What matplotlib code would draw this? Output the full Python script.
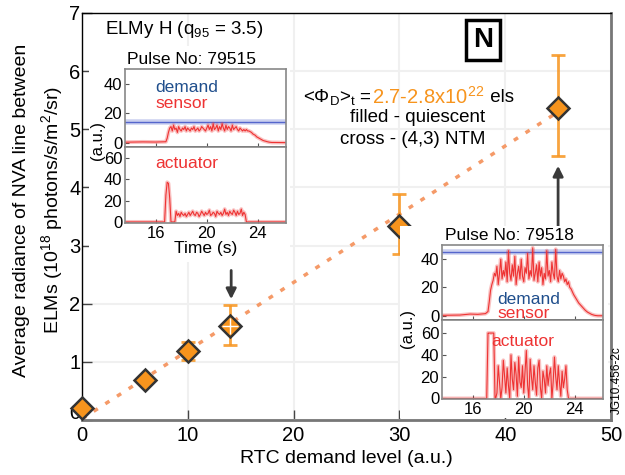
import numpy as np
import matplotlib
matplotlib.use("Agg")
import matplotlib.pyplot as plt
from matplotlib.patches import Rectangle

plt.rcParams['font.family'] = ['Liberation Sans', 'DejaVu Sans']
plt.rcParams['mathtext.fontset'] = 'custom'
plt.rcParams['mathtext.rm'] = 'Liberation Sans'
plt.rcParams['mathtext.it'] = 'Liberation Sans'

# ---------------- main data ----------------
rtc_demand = [0, 6, 10, 14, 30, 45]
radiance = [0.2, 0.68, 1.18, 1.62, 3.34, 5.37]
err_low = [0.0, 0.0, 0.15, 0.33, 0.48, 0.83]
err_high = [0.0, 0.0, 0.17, 0.36, 0.55, 0.91]
fit_x = [0, 45]
fit_y = [0.02, 5.3]

x_ticks = [0, 10, 20, 30, 40, 50]
y_ticks = [0, 1, 2, 3, 4, 5, 6, 7]

# ---------------- inset 1: pulse 79515 ----------------
p1_demand = 14
p1_sensor_t0 = [13.6, 15.0, 16.0, 16.8, 16.9, 17.0, 17.1]
p1_sensor_v0 = [0.3, 0.5, 0.4, 0.6, 3, 7, 10]
p1_sensor_noisy = [11, 8, 12, 9, 10, 7, 11, 9, 8, 10, 9, 11, 8, 10, 9, 8, 10, 9, 11, 8,
                   9, 10, 8, 9, 11, 10, 9, 8, 10, 12, 9, 11, 8, 13, 9, 10, 12, 8, 11, 9,
                   13, 10, 8, 12, 9, 11, 10, 8, 12, 9, 10, 11, 9, 8, 10, 9, 8, 9, 8, 9, 8]
p1_sensor_decay = [8, 7.5, 7, 6, 5.5, 5, 4, 3.5, 3, 2.5, 2, 1.5, 1.2, 1, 0.7, 0.5, 0.3, 0.2, 0.1, 0.1]
p1_act_t0 = [13.6, 16.7, 16.8, 16.9, 17.0, 17.1, 17.2, 17.3, 17.5]
p1_act_v0 = [0, 0, 25, 37, 36, 22, 0, 0, 0]
p1_act_noisy = [10, 6, 8, 5, 9, 7, 6, 8, 5, 7, 9, 6, 8, 10, 7, 6, 9, 8, 5, 7, 10, 8, 6, 9, 7,
                8, 11, 6, 7, 9, 8, 5, 10, 8, 7, 9, 6, 8, 12, 7, 9, 6, 10, 8, 7, 11, 9, 6, 10,
                7, 8, 12, 6, 9, 7]

# ---------------- inset 2: pulse 79518 ----------------
p2_demand = 45
p2_sensor_t0 = [13.6, 15.0, 15.8, 16.4, 17.0, 17.2, 17.3, 17.4, 17.5]
p2_sensor_v0 = [0.3, 0.5, 1.2, 1.0, 1.5, 3, 10, 18, 22]
p2_sensor_noisy = [25, 30, 28, 35, 22, 30, 40, 26, 32, 28, 38, 24, 46, 30, 25, 36, 28, 42, 22, 30,
                   35, 26, 40, 28, 24, 34, 30, 44, 26, 32, 28, 48, 25, 30, 36, 24, 38, 28, 34, 22,
                   30, 26, 46, 28, 32, 24, 38, 30, 26, 47, 28, 24, 32, 26, 30, 28, 24, 26, 22, 24, 20]
p2_sensor_decay = [19, 17, 15, 13.5, 12, 10.5, 9, 8, 7, 6, 5, 4, 3.2, 2.5, 2, 1.5, 1, 0.7, 0.4, 0.2, 0.1, 0]
p2_act_t0 = [13.6, 17.1, 17.2, 17.25, 17.65, 17.7, 17.75]
p2_act_v0 = [0, 0, 60, 60, 60, 30, 0]
p2_act_noisy = [0, 5, 30, 15, 0, 10, 35, 20, 5, 28, 12, 0, 40, 18, 8, 33, 22, 2, 38, 15, 10, 30, 5,
                25, 44, 12, 0, 36, 20, 8, 30, 15, 3, 28, 35, 10, 0, 25, 18, 5, 30, 12, 22, 28, 0,
                15, 38, 20, 8, 30, 14, 2, 25, 10, 18, 30, 8, 0]

inset_xticks = [16, 20, 24]

W, H = 625, 475
fig = plt.figure(figsize=(W / 100, H / 100), dpi=100)

def fx(px):
    return px / W

def fy(py):
    return 1 - py / H

ORANGE = '#f7941d'
DASH = '#f59a68'
RED = '#ee3333'
BLUE = '#5566cc'
DKBLUE = '#1f4e8c'

# ---------------- main axes ----------------
ax = fig.add_axes([fx(82), fy(420), fx(611) - fx(82), fy(13) - fy(420)])
ax.set_xlim(0, 50)
ax.set_ylim(0, 7)
ax.grid(True, color='#f0f0f0', lw=1.5, zorder=0)
ax.set_axisbelow(True)
ax.plot(fit_x, fit_y, color=DASH, lw=2.5, ls=(0, (1.4, 2.6)), zorder=2)
ax.errorbar(rtc_demand, radiance, yerr=[err_low, err_high], fmt='none',
            ecolor=ORANGE, elinewidth=2, capsize=5, capthick=2, alpha=0.85, zorder=3)
ax.plot(rtc_demand, radiance, 'D', ms=11.5, mfc=ORANGE, mec='#333333', mew=1.8, zorder=5,
        clip_on=False)
# white cross on point 14
ax.plot([rtc_demand[3]], [radiance[3]], '+', ms=11, mec='white', mew=1.0, zorder=6)

ax.set_xticks(x_ticks)
ax.set_yticks(y_ticks)
ax.set_yticklabels([''] + [str(v) for v in y_ticks[1:]])
ax.tick_params(direction='in', length=7, width=1, colors='#444444', labelcolor='black',
               labelsize=14.5, pad=4)
ax.tick_params(axis='y', pad=1)
ax.annotate(str(y_ticks[0]), xy=(0, y_ticks[0]), xytext=(-1.5, 5), textcoords='offset points',
            ha='right', va='center', fontsize=14.5, annotation_clip=False)
ax.set_xlabel('RTC demand level (a.u.)', fontsize=14, labelpad=4)
for s in ['left', 'top']:
    ax.spines[s].set_color('black')
    ax.spines[s].set_linewidth(1.0)
for s in ['bottom', 'right']:
    ax.spines[s].set_color('#777777')
    ax.spines[s].set_linewidth(2.0)

fig.text(fx(22), fy(210), 'Average radiance of NVA line between', rotation=90,
         ha='center', va='center', fontsize=14)
fig.text(fx(52), fy(210), r'ELMs (10$^{18}$ photons/s/m$^{2}$/sr)', rotation=90,
         ha='center', va='center', fontsize=14)

fig.text(fx(105), fy(30), r'ELMy H (q$_{95}$ = 3.5)', ha='left', va='center', fontsize=13.5)

# N box
fig.text(fx(483), fy(40), 'N', ha='center', va='center', fontsize=20, fontweight='bold',
         bbox=dict(boxstyle='square,pad=0.25', fc='white', ec='black', lw=2.5))

# annotation text
fig.canvas.draw()
renderer = fig.canvas.get_renderer()
pieces = [(r'<$\Phi_{\rm D}$>$_{\rm t}$ = ', 'black', 13.5),
          (r'2.7-2.8x10$^{22}$', ORANGE, 14.5),
          (' els', 'black', 13.5)]
xcur = fx(303)
for txt, col, fs in pieces:
    t = fig.text(xcur, fy(97), txt, ha='left', va='center', fontsize=fs, color=col)
    bb = t.get_window_extent(renderer)
    xcur += bb.width / W
fig.text(fx(418), fy(118), 'filled - quiescent', ha='center', va='center', fontsize=13.5)
fig.text(fx(413), fy(140), 'cross - (4,3) NTM', ha='center', va='center', fontsize=13.5)

# arrows
ax.annotate('', xy=(14.1, 2.03), xytext=(14.1, 2.62),
            arrowprops=dict(arrowstyle='-|>,head_width=0.3,head_length=0.6', color='#3a3a3a', lw=2),
            zorder=7)
ax.annotate('', xy=(45, 4.42), xytext=(45, 3.24),
            arrowprops=dict(arrowstyle='-|>,head_width=0.3,head_length=0.6', color='#3a3a3a', lw=2),
            zorder=7)

fig.text(fx(617), fy(380), 'JG10.456-2c', rotation=90, ha='center', va='center', fontsize=8.5)

# white background patches for insets
fig.patches.append(Rectangle((fx(89), fy(262)), fx(290) - fx(89), fy(46) - fy(262),
                             transform=fig.transFigure, fc='white', ec='none', zorder=1))
fig.patches.append(Rectangle((fx(400), fy(418)), fx(608) - fx(400), fy(226) - fy(418),
                             transform=fig.transFigure, fc='white', ec='none', zorder=1))


def build(t0, v0, noisy, start, decay=None):
    t = list(t0)
    v = list(v0)
    tn = start + 0.1 * np.arange(len(noisy))
    t += list(tn)
    v += list(noisy)
    if decay is not None:
        td = tn[-1] + 0.1 + 0.1 * np.arange(len(decay))
        t += list(td)
        v += list(decay)
    t.append(26.2)
    v.append(0)
    return np.array(t), np.array(v)


def style_inset(a, ylim, yticks):
    a.set_xlim(13.6, 26.2)
    a.set_ylim(*ylim)
    a.set_yticks(yticks)
    a.set_xticks(inset_xticks)
    a.tick_params(direction='in', length=3, colors='#555555', labelcolor='black',
                  labelsize=12, pad=2)
    for s in a.spines.values():
        s.set_color('#888888')
        s.set_linewidth(1.2)


def draw_inset(left, right, top, mid, bottom, demand, s_t, s_v, a_t, a_v,
               up_ylim, lo_ylim, title, title_xy, lbl_pos, show_xlabel):
    au = fig.add_axes([fx(left), fy(mid), fx(right) - fx(left), fy(top) - fy(mid)], zorder=3)
    al = fig.add_axes([fx(left), fy(bottom), fx(right) - fx(left), fy(mid) - fy(bottom)], zorder=3)
    style_inset(au, up_ylim, [0, 20, 40])
    style_inset(al, lo_ylim, [0, 20, 40, 60])
    au.tick_params(labelbottom=False)
    au.spines['bottom'].set_color('#333333')
    au.axhline(demand, color=BLUE, lw=4, alpha=0.3)
    au.axhline(demand, color=BLUE, lw=1)
    au.plot(s_t, s_v, color=RED, lw=2.8, alpha=0.3)
    au.plot(s_t, s_v, color=RED, lw=0.8)
    al.plot(a_t, a_v, color=RED, lw=2.8, alpha=0.3)
    al.plot(a_t, a_v, color=RED, lw=0.8)
    fig.text(fx(title_xy[0]), fy(title_xy[1]), title, ha='center', va='center', fontsize=12.5)
    (dx, dy), (sx, sy), (ax_, ay_), (ux, uy) = lbl_pos
    fig.text(fx(dx), fy(dy), 'demand', color=DKBLUE, ha='left', va='center', fontsize=12.5)
    fig.text(fx(sx), fy(sy), 'sensor', color=RED, ha='left', va='center', fontsize=12.5)
    fig.text(fx(ax_), fy(ay_), 'actuator', color=RED, ha='left', va='center', fontsize=12.5)
    fig.text(fx(ux), fy(uy), '(a.u.)', rotation=90, ha='center', va='center', fontsize=12)
    if show_xlabel:
        al.set_xlabel('Time (s)', fontsize=12.5, labelpad=0)
    return au, al


s1_t, s1_v = build(p1_sensor_t0, p1_sensor_v0, p1_sensor_noisy, 17.2, p1_sensor_decay)
a1_t, a1_v = build(p1_act_t0, p1_act_v0, p1_act_noisy, 17.6)
a1_t = np.append(a1_t[:-1], [23.1, 26.2])
a1_v = np.append(a1_v[:-1], [0, 0])
draw_inset(125, 286, 69, 147, 223, p1_demand, s1_t, s1_v, a1_t, a1_v,
           (-3, 50.5), (-1, 70), 'Pulse No: 79515', (192, 59),
           ((155, 87), (155, 103), (155, 163), (97, 140)), True)

s2_t, s2_v = build(p2_sensor_t0, p2_sensor_v0, p2_sensor_noisy, 17.6, p2_sensor_decay)
a2_t, a2_v = build(p2_act_t0, p2_act_v0, p2_act_noisy, 17.8)
a2_t = np.append(a2_t[:-1], [23.6, 26.2])
a2_v = np.append(a2_v[:-1], [0, 0])
draw_inset(442, 603, 245, 320, 399, p2_demand, s2_t, s2_v, a2_t, a2_v,
           (-3, 50), (-0.5, 72), 'Pulse No: 79518', (509, 235),
           ((497, 300), (497, 314), (491, 342), (407, 328)), False)

fig.savefig('out.png', dpi=100)
